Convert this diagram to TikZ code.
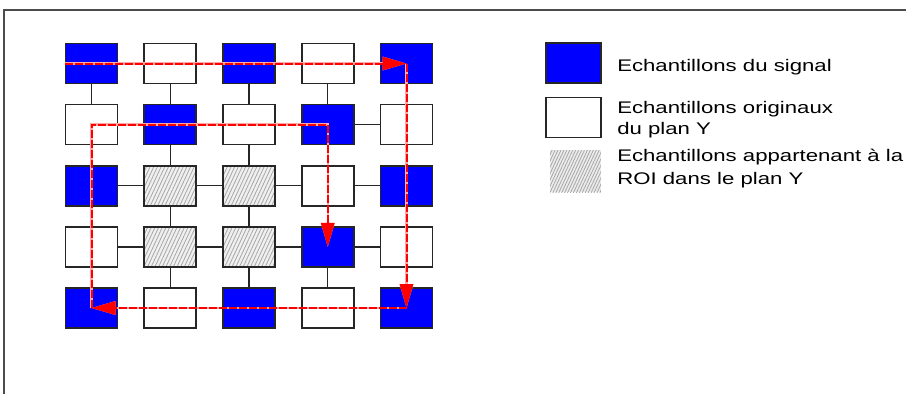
\documentclass[tikz,border=0pt]{standalone}
\usepackage{fontspec}
\setmainfont{Liberation Sans}
\usetikzlibrary{arrows.meta,patterns.meta}
\begin{document}
\begin{tikzpicture}[x=0.75pt,y=-0.75pt,
 cell/.style={draw=black!85,line width=1.2pt,minimum width=39pt,minimum height=30pt,inner sep=0pt},
 sig/.style={cell,fill=blue},
 orig/.style={cell,fill=white},
 roi/.style={cell,preaction={fill=gray!12},pattern={Lines[angle=65,distance=2.5pt,line width=0.6pt]},pattern color=gray!70},
 link/.style={draw=black!85,line width=1.1pt},
 route/.style={draw=red,line width=1.5pt,dash pattern=on 6pt off 1.5pt,preaction={draw=red!35,solid,line width=1.7pt}},
 tip/.style={-{Triangle[length=18pt,width=10pt]}},
 lbl/.style={anchor=base west,inner sep=0pt,font=\fontsize{12.6}{15}\selectfont}
]
\useasboundingbox (0,0) rectangle (906,394);
\draw[draw=black!70,line width=1.1pt] (4,394) -- (4,10) -- (906,10);

\foreach \r/\row in {1/{sig,orig,sig,orig,sig},2/{orig,sig,orig,sig,orig},3/{sig,roi,roi,orig,sig},4/{orig,roi,roi,sig,orig},5/{sig,orig,sig,orig,sig}}{
  \foreach \t [count=\c] in \row {
    \node[\t] (b\r\c) at ({91.5+78.75*(\c-1)},{63.5+61.125*(\r-1)}) {};
  }
}
% connectors
\foreach \r in {1,...,5}{
  \foreach \c [evaluate=\c as \n using int(\c+1)] in {1,...,4}{
    \draw[link] (b\r\c) -- (b\r\n);
  }
}
\foreach \r [evaluate=\r as \n using int(\r+1)] in {1,...,4}{
  \foreach \c in {1,...,5}{
    \draw[link] (b\r\c) -- (b\n\c);
  }
}
% red route
\draw[route,tip] (b11.west) -- (b15.center);
\draw[route,tip] (b15.center) -- (b55.center);
\draw[route,tip] (b55.center) -- (b51.center);
\draw[route,tip] (b51.center) -- (b21.center) -- (b24.center) -- (b44.center);

% legend
\node[sig,minimum width=41pt,minimum height=30pt] (l1) at (573.5,63) {};
\node[orig,minimum width=41pt,minimum height=30pt] (l2) at (573.5,117.5) {};
\node[inner sep=0pt,minimum width=38pt,minimum height=31.5pt,preaction={fill=gray!15},pattern={Lines[angle=65,distance=2pt,line width=0.6pt]},pattern color=gray!70] (l3) at (575.5,171) {};
\node[lbl] (t1) at (617,71) {\scalebox{1.32}[1]{Echantillons du signal}};
\node[lbl] (t2) at (617,113) {\scalebox{1.32}[1]{Echantillons originaux}};
\node[lbl] (t3) at (617,134) {\scalebox{1.32}[1]{du plan Y}};
\node[lbl] (t4) at (617,161) {\scalebox{1.32}[1]{Echantillons appartenant à la}};
\node[lbl] (t5) at (617,184) {\scalebox{1.32}[1]{ROI dans le plan Y}};
\end{tikzpicture}
\end{document}
